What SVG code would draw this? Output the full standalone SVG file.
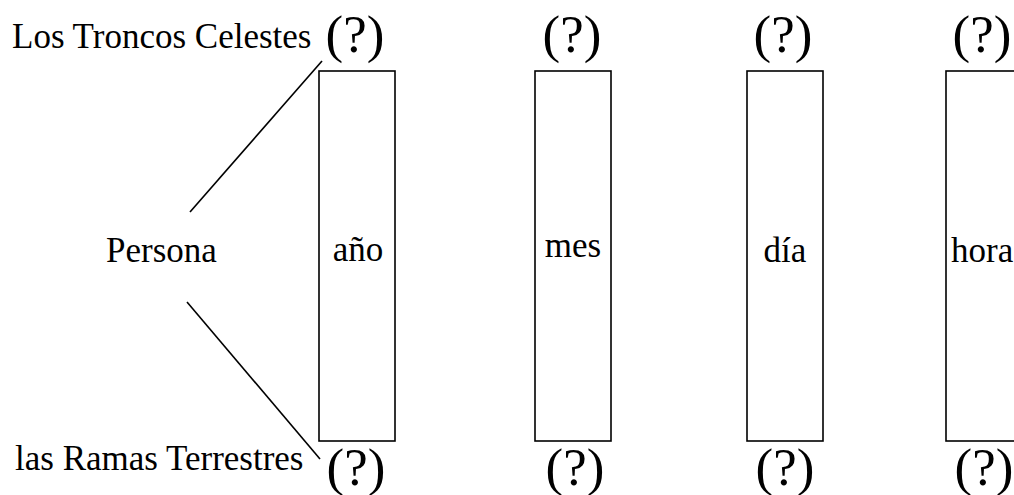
<svg xmlns="http://www.w3.org/2000/svg" width="1014" height="495" viewBox="0 0 1014 495" font-family="'Liberation Serif', 'Times New Roman', 'DejaVu Serif', serif">
<style>
text{font-family:'Liberation Serif','Times New Roman','DejaVu Serif',serif;fill:#000}
.lbl{font-size:35px}
.q{font-size:53px;text-anchor:middle}
.c{text-anchor:middle}
.box{fill:#fff;stroke:#000;stroke-width:1.6}
.ln{stroke:#000;stroke-width:1.6;fill:none}
</style>
<rect width="1014" height="495" fill="#fff"/>
<g id="labels">
<text class="lbl" x="12" y="48">Los Troncos Celestes</text>
<text class="lbl" x="15" y="470">las Ramas Terrestres</text>
<text id="persona" class="lbl" x="106" y="262">Persona</text>
</g>
<g id="connectors">
<line class="ln" x1="190" y1="212" x2="322" y2="61"/>
<line class="ln" x1="187" y1="302" x2="320" y2="459"/>
</g>
<g id="node-ano">
<rect class="box" x="319" y="71" width="76" height="370"/>
<text class="lbl c" x="358" y="261">año</text>
<text class="q" x="355" y="52">(?)</text>
<text class="q" x="356" y="485">(?)</text>
</g>
<g id="node-mes">
<rect class="box" x="535" y="71" width="76" height="370"/>
<text class="lbl c" x="573" y="257">mes</text>
<text class="q" x="572" y="52">(?)</text>
<text class="q" x="575" y="485">(?)</text>
</g>
<g id="node-dia">
<rect class="box" x="747" y="71" width="76" height="370"/>
<text class="lbl c" x="785" y="262">día</text>
<text class="q" x="783" y="52">(?)</text>
<text class="q" x="785" y="485">(?)</text>
</g>
<g id="node-hora">
<rect class="box" x="946" y="71" width="76" height="370"/>
<text class="lbl" x="951" y="262">hora</text>
<text class="q" x="982" y="52">(?)</text>
<text class="q" x="984" y="485">(?)</text>
</g>
</svg>
